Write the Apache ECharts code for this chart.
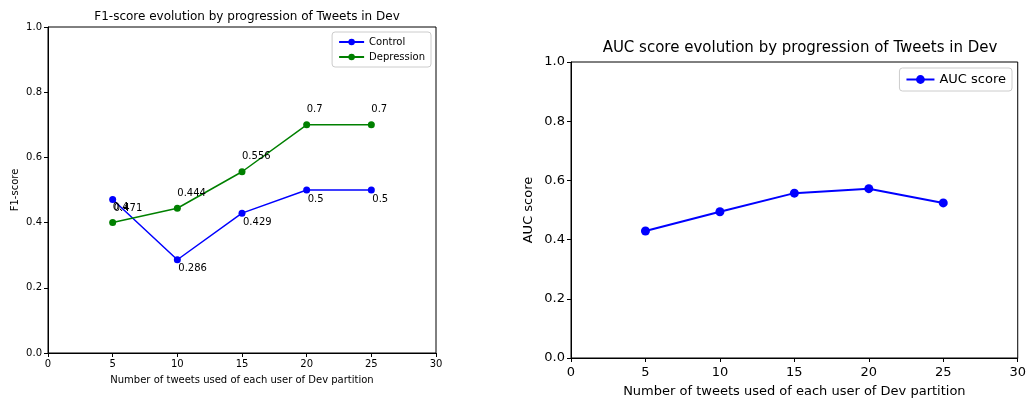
<!DOCTYPE html>
<html>
<head>
    <meta charset="utf-8">
    <title></title>
    <style type="text/css">
        html, body { height: 100%; margin: 0; padding: 0; background: #fff; }
        #main { width: 1029px; height: 404px; }
    </style>
    <script src="https://cdn.jsdelivr.net/npm/echarts@6/dist/echarts.min.js"></script>
</head>
<body>
<div id="main"></div>
<script type="text/javascript">
    var tweets = [5, 10, 15, 20, 25];
    var control = [0.471, 0.286, 0.429, 0.5, 0.5];
    var depression = [0.4, 0.444, 0.556, 0.7, 0.7];
    var auc = [0.429, 0.494, 0.557, 0.572, 0.524];

    function pairs(ys) {
        return tweets.map(function (x, i) { return [x, ys[i]]; });
    }

    var font = 'DejaVu Sans';
    var black = '#000';

    function xAx(idx, size, gap, margin) {
        return {
            type: 'value', gridIndex: idx, min: 0, max: 30, interval: 5,
            name: 'Number of tweets used of each user of Dev partition',
            nameLocation: 'middle', nameGap: gap,
            nameTextStyle: { fontFamily: font, fontSize: size, color: black },
            axisLine: { show: true, lineStyle: { color: black, width: 1 } },
            axisTick: { show: true, length: 4, lineStyle: { color: black } },
            axisLabel: { fontFamily: font, fontSize: size, color: black, margin: margin },
            splitLine: { show: false }
        };
    }
    function yAx(idx, name, size, gap) {
        return {
            type: 'value', gridIndex: idx, min: 0, max: 1, interval: 0.2,
            name: name, nameLocation: 'middle', nameGap: gap,
            nameTextStyle: { fontFamily: font, fontSize: size, color: black },
            axisLine: { show: true, lineStyle: { color: black, width: 1 } },
            axisTick: { show: true, length: 4, lineStyle: { color: black } },
            axisLabel: { fontFamily: font, fontSize: size, color: black, margin: 6,
                formatter: function (v) { return v.toFixed(1); } },
            splitLine: { show: false }
        };
    }

    var myChart = echarts.init(document.getElementById('main'));
    myChart.setOption({
        animation: false,
        backgroundColor: '#fff',
        title: [{
            text: 'F1-score evolution by progression of Tweets in Dev',
            left: 242, top: 6, textAlign: 'center',
            textStyle: { fontFamily: font, fontSize: 12, fontWeight: 'normal', color: black }
        }, {
            text: 'AUC score evolution by progression of Tweets in Dev',
            left: 795, top: 36, textAlign: 'center',
            textStyle: { fontFamily: font, fontSize: 15, fontWeight: 'normal', color: black }
        }],
        legend: [{
            data: ['Control', 'Depression'],
            orient: 'vertical', right: 598, top: 32,
            itemWidth: 25, itemHeight: 8, itemGap: 5,
            padding: [5, 6, 5, 6],
            borderColor: '#ccc', borderWidth: 1, borderRadius: 3,
            textStyle: { fontFamily: font, fontSize: 10, color: black }
        }, {
            data: ['AUC score'],
            orient: 'vertical', right: 17, top: 68,
            itemWidth: 28, itemHeight: 11,
            padding: [5, 6, 5, 6],
            borderColor: '#ccc', borderWidth: 1, borderRadius: 3,
            textStyle: { fontFamily: font, fontSize: 13, color: black }
        }],
        grid: [
            { left: 48, top: 27, width: 388, height: 326, show: true, borderColor: black, borderWidth: 1 },
            { left: 571, top: 62, width: 448, height: 296, show: true, borderColor: black, borderWidth: 1 }
        ],
        xAxis: [xAx(0, 10, 22, 6), xAx(1, 13, 27, 8)],
        yAxis: [yAx(0, 'F1-score', 10, 28), yAx(1, 'AUC score', 13, 36)],
        series: [{
            name: 'Control', type: 'line', xAxisIndex: 0, yAxisIndex: 0,
            data: pairs(control), color: '#0000ff',
            symbol: 'circle', symbolSize: 7,
            lineStyle: { width: 1.5 },
            label: { show: true, position: 'inside', align: 'left', verticalAlign: 'middle',
                offset: [1, 9], fontFamily: font, fontSize: 10, color: black,
                formatter: function (p) { return String(p.value[1]); } }
        }, {
            name: 'Depression', type: 'line', xAxisIndex: 0, yAxisIndex: 0,
            data: pairs(depression), color: '#008000',
            symbol: 'circle', symbolSize: 7,
            lineStyle: { width: 1.5 },
            label: { show: true, position: 'inside', align: 'left', verticalAlign: 'middle',
                offset: [0, -15], fontFamily: font, fontSize: 10, color: black,
                formatter: function (p) { return String(p.value[1]); } }
        }, {
            name: 'AUC score', type: 'line', xAxisIndex: 1, yAxisIndex: 1,
            data: pairs(auc), color: '#0000ff',
            symbol: 'circle', symbolSize: 9,
            lineStyle: { width: 2 }
        }]
    });
</script>
</body>
</html>
